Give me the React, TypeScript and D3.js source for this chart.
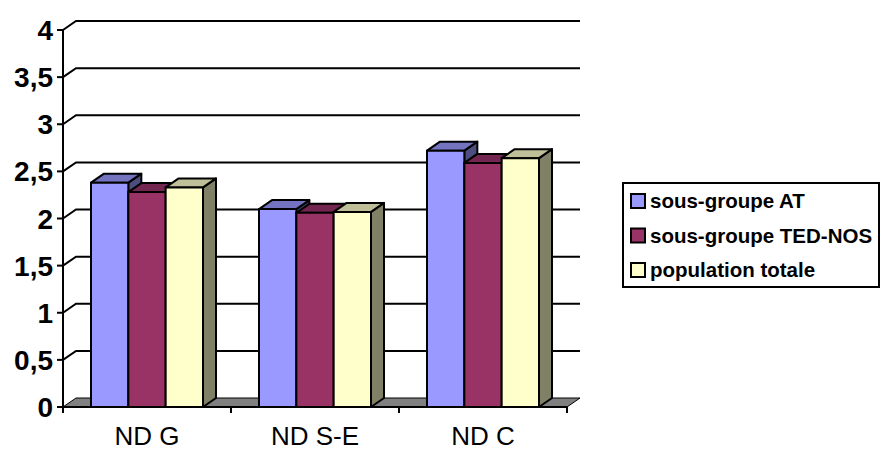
import React from "react";
import * as d3 from "d3";

const categories = ["ND G", "ND S-E", "ND C"];
const seriesNames = ["sous-groupe AT", "sous-groupe TED-NOS", "population totale"];
const atValues = [2.38, 2.1, 2.72];
const tedValues = [2.28, 2.06, 2.59];
const totalValues = [2.33, 2.07, 2.64];
const seriesValues = [atValues, tedValues, totalValues];
const frontColors = ["#9999FF", "#993366", "#FFFFCC"];
const topColors = ["#7373BF", "#732650", "#BFBF99"];
const sideColors = ["#4D4D80", "#4D1A33", "#808066"];
const yTicks = [0, 0.5, 1, 1.5, 2, 2.5, 3, 3.5, 4];

const W = 881;
const H = 451;
const DX = 13;
const DY = 9;
const FONT = "'Liberation Sans', Arial, sans-serif";

export default function App() {
  const y = d3.scaleLinear().domain([0, 4]).range([407, 30]);
  const x0 = d3.scaleBand<string>().domain(categories).range([63, 567]);
  const x1 = d3
    .scaleBand<string>()
    .domain(seriesNames)
    .range([0, x0.bandwidth()])
    .paddingInner(0)
    .paddingOuter(0.75);
  const y0 = y(0);
  const xl = x0.range()[0];
  const xr = x0.range()[1];
  const fmt = (v: number) => String(v).replace(".", ",");

  const bars: React.ReactNode[] = [];
  categories.forEach((c, ci) => {
    seriesNames.forEach((s, si) => {
      const v = seriesValues[si][ci];
      const x = (x0(c) as number) + (x1(s) as number);
      const w = x1.bandwidth();
      const yt = y(v);
      const top = `M${x},${yt}L${x + DX},${yt - DY}L${x + w + DX},${yt - DY}L${x + w},${yt}Z`;
      const side = `M${x + w},${yt}L${x + w + DX},${yt - DY}L${x + w + DX},${y0 - DY}L${x + w},${y0}Z`;
      bars.push(
        <g key={`${ci}-${si}`} stroke="#000" strokeWidth={2} strokeLinejoin="round">
          <path d={side} fill={sideColors[si]} />
          <path d={top} fill={topColors[si]} />
          <rect x={x} y={yt} width={w} height={y0 - yt} fill={frontColors[si]} />
        </g>
      );
    });
  });

  return (
    <svg
      width={W}
      height={H}
      style={{ position: "absolute", left: 0, top: 0, background: "#fff" }}
      fontFamily={FONT}
    >
      <rect x={0} y={0} width={W} height={H} fill="#fff" />
      {/* floor */}
      <path
        d={`M${xl},${y0}L${xl + DX},${y0 - DY}L${xr + DX},${y0 - DY}L${xr},${y0}Z`}
        fill="#808080"
        stroke="#000"
        strokeWidth={1}
      />
      {/* gridlines */}
      {yTicks
        .filter((t) => t > 0)
        .map((t) => (
          <path
            key={t}
            d={`M${xl},${y(t)}L${xl + DX},${y(t) - DY}L${xr + DX},${y(t) - DY}`}
            fill="none"
            stroke="#000"
            strokeWidth={2}
          />
        ))}
      {/* y axis */}
      <line x1={xl} x2={xl} y1={y(4)} y2={y0} stroke="#000" strokeWidth={2} />
      {yTicks.map((t) => (
        <g key={`yt${t}`}>
          <line x1={xl - 6} x2={xl} y1={y(t)} y2={y(t)} stroke="#000" strokeWidth={2} />
          <text
            x={xl - 10}
            y={y(t)}
            dy="0.36em"
            textAnchor="end"
            fontWeight="bold"
            fontSize={28}
            fill="#000"
          >
            {fmt(t)}
          </text>
        </g>
      ))}
      {/* bars */}
      {bars}
      {/* x axis */}
      <line x1={xl} x2={xr} y1={y0} y2={y0} stroke="#000" strokeWidth={2} />
      {[...categories.map((c) => x0(c) as number), xr].map((px, i) => (
        <line key={`xt${i}`} x1={px} x2={px} y1={y0} y2={y0 + 6} stroke="#000" strokeWidth={2} />
      ))}
      {categories.map((c) => (
        <text
          key={c}
          x={(x0(c) as number) + x0.bandwidth() / 2}
          y={445}
          textAnchor="middle"
          fontSize={26}
          fill="#000"
        >
          {c}
        </text>
      ))}
      {/* legend */}
      <rect x={623} y={183} width={256} height={104} fill="#fff" stroke="#000" strokeWidth={2} />
      {seriesNames.map((s, i) => {
        const cy = 201 + i * 34.5;
        return (
          <g key={s}>
            <rect x={631} y={cy - 7} width={14} height={14} fill={frontColors[i]} stroke="#000" strokeWidth={2} />
            <text x={650} y={cy} dy="0.36em" fontWeight="bold" fontSize={20.5} fill="#000">
              {s}
            </text>
          </g>
        );
      })}
    </svg>
  );
}
